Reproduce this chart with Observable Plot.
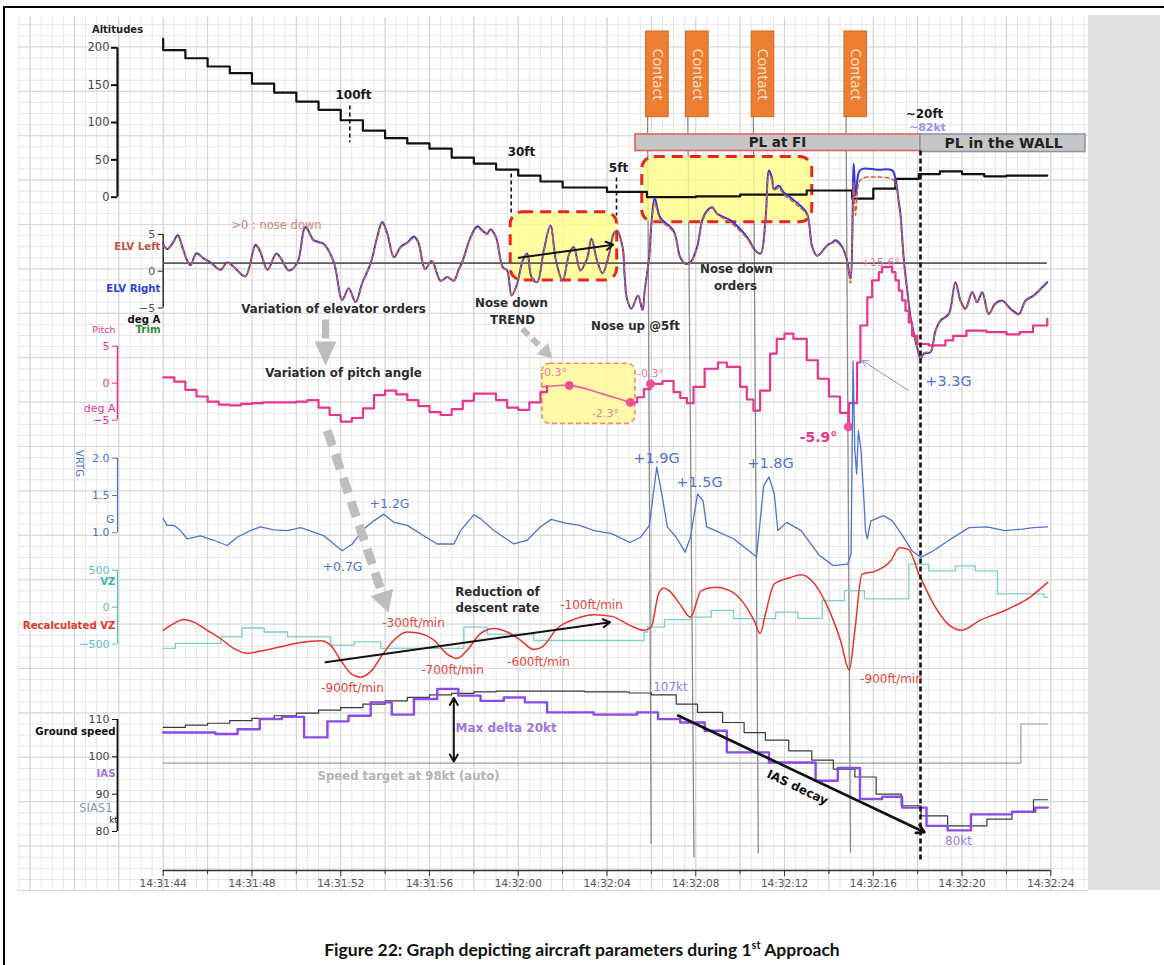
<!DOCTYPE html>
<html><head><meta charset="utf-8">
<script src="https://cdn.jsdelivr.net/npm/d3@7"></script>
<script src="https://cdn.jsdelivr.net/npm/@observablehq/plot@0.6"></script>
<style>
body{margin:0;background:#fff;}
#root{position:relative;width:1164px;height:965px;overflow:hidden;}
#frame{position:absolute;left:3px;top:6px;width:1175px;height:975px;border-left:2px solid #000;border-top:2px solid #000;}
#caption{position:absolute;left:0;top:933px;width:1164px;text-align:center;font:bold 17.5px Lato, "Open Sans", sans-serif;line-height:24px;color:#111;}
#caption sup{font-size:11px;}
</style></head><body>
<div id="root"><div id="frame"></div>
<div id="caption">Figure 22: Graph depicting aircraft parameters during 1<sup>st</sup> Approach</div>
</div>
<script>
// ---------------- DATA (time in seconds after 14:31:44) ----------------
const timeTicks = [0,4,8,12,16,20,24,28,32,36,40];
const timeLabels = ["14:31:44","14:31:48","14:31:52","14:31:56","14:32:00","14:32:04","14:32:08","14:32:12","14:32:16","14:32:20","14:32:24"];
const altTicks = [0,50,100,150,200];
const elvTicks = [-5,0,5];
const pitchTicks = [-5,0,5];
const gTicks = [1.0,1.5,2.0];
const vzTicks = [-500,0,500];
const speedTicks = [80,90,100,110];

const altitude = [[0,212],[0,197],[1,186],[2,175],[3,166],[4,152],[5,140],[6,128],[7,117],[8,103],[9,89],[10,79],[11,72],[12,65],[13,53],[14,45],[15,37],[16,29],[17,21],[18,13],[20,7],[21.8,0],[24,1],[26,3.5],[29,9],[31.05,-2],[32,11.6],[33,24.5],[34.05,31],[35,34.5],[36,31],[37,28],[38,29],[39.84,29]];

// [t, ELV right, ELV left]
const elv = [[0,3.7,3.5],[0.18,3.0,3.0],[0.4,3.7,3.6],[0.66,4.9,4.7],[0.86,3.3,3.3],[1.08,1.45,1.4],[1.23,0.8,0.8],[1.5,2.45,2.3],[1.83,1.7,1.7],[2.13,1.2,1.1],[2.58,0.2,0.2],[2.88,1.2,1.1],[3.18,0.6,0.6],[3.7,-0.7,-0.7],[4.16,3.6,3.4],[4.38,2.6,2.6],[4.7,0.2,0.2],[5.1,2.4,2.3],[5.36,1.45,1.45],[5.66,0.1,0.1],[6.04,1.1,1.1],[6.41,6.0,5.8],[6.79,4.2,4.1],[7.24,3.7,3.6],[7.69,1.2,1.2],[8.07,-3.9,-3.9],[8.36,-2.3,-2.4],[8.67,-4.2,-4.2],[8.97,-1.6,-1.6],[9.34,1.0,1.0],[9.64,4.6,4.5],[9.87,6.7,6.5],[10.1,5.1,5.0],[10.4,1.9,1.9],[10.7,3.3,3.2],[11.0,3.9,3.8],[11.3,4.7,4.5],[11.5,3.9,3.8],[11.8,0.3,0.3],[12.1,1.4,1.3],[12.5,-1.3,-1.3],[12.8,-0.8,-0.8],[13.1,-1.3,-1.3],[13.3,0.1,0.1],[13.5,1.45,1.4],[13.85,4.6,4.5],[14.15,6.1,5.9],[14.4,5.5,5.4],[14.6,5.1,5.0],[14.75,5.7,5.6],[15.0,4.6,4.5],[15.3,0.55,0.5],[15.5,0.1,0.1],[15.7,-3.3,-3.3],[15.95,-1.7,-1.7],[16.2,1.45,1.4],[16.4,2.4,2.3],[16.6,-0.8,-0.8],[16.85,-1.5,-1.5],[17.15,2.8,2.7],[17.45,6.2,6.1],[17.7,1.45,1.4],[18.0,-1.3,-1.3],[18.3,2.4,2.3],[18.5,3.3,3.2],[18.8,0.1,0.1],[19.1,1.7,1.6],[19.3,4.4,4.3],[19.55,1.45,1.4],[19.8,-0.3,-0.3],[20.1,2.4,2.3],[20.3,5.1,5.0],[20.45,5.5,5.6],[20.7,3.3,3.4],[20.8,-0.8,-0.8],[20.9,-3.75,-3.7],[21.1,-5.1,-5.0],[21.4,-3.3,-3.3],[21.6,-5.3,-5.2],[21.7,-2.6,-2.6],[21.9,1.9,1.9],[22.0,6.4,6.2],[22.15,9.9,9.2],[22.4,7.3,7.0],[23.0,5.5,5.3],[23.3,1.9,1.8],[23.54,1.0,1.0],[23.76,1.2,1.1],[24.06,3.3,3.2],[24.29,6.9,6.7],[24.5,8.2,8.0],[24.74,8.7,8.6],[24.97,7.8,7.7],[25.57,6.9,6.6],[26.32,4.6,4.4],[26.69,2.8,2.7],[26.92,2.4,2.4],[27.14,6.9,6.8],[27.3,13.7,13.2],[27.44,12.6,12.3],[27.52,11.2,11.0],[27.74,11.6,11.3],[27.97,10.7,10.4],[28.27,10.0,9.7],[28.72,8.9,8.6],[29.02,7.8,7.6],[29.25,3.3,3.2],[29.47,2.1,2.1],[29.92,3.5,3.4],[30.15,3.9,3.8],[30.3,4.2,4.0],[30.6,3.3,3.2],[30.82,1.45,1.4],[30.97,-1.0,-1.6],[31.12,14.6,12.0],[31.2,10.3,7.6],[31.35,13.45,12.0],[31.5,13.9,12.6],[32.2,13.8,12.8],[32.85,13.7,12.5],[33.0,12.6,12.0],[33.15,9.4,9.0],[33.23,7.6,7.2],[33.38,1.45,1.2],[33.53,-2.6,-2.8],[33.68,-6.25,-6.4],[33.83,-8.5,-8.6],[34.05,-11.2,-11.2],[34.13,-11.9,-11.8],[34.28,-11.2,-11.1],[34.58,-11.0,-10.9],[34.8,-8.1,-8.2],[35.03,-6.7,-6.8],[35.4,-5.8,-5.9],[35.7,-1.5,-1.7],[35.93,-4.0,-4.1],[36.15,-5.1,-5.2],[36.46,-2.85,-3.0],[36.68,-4.2,-4.3],[36.91,-2.85,-3.0],[37.2,-5.8,-5.9],[37.5,-4.4,-4.5],[37.81,-4.0,-4.1],[38.18,-5.1,-5.2],[38.56,-5.8,-5.9],[38.86,-4.0,-4.1],[39.23,-3.3,-3.4],[39.54,-2.4,-2.5],[39.84,-1.5,-1.6]];
const trimLevel = 1.1;
const trimSpan = [0, 39.84];

const pitchA = [[0,0.8],[0.5,0.2],[1,-0.9],[1.5,-1.8],[2,-2.5],[2.5,-2.9],[3,-3.0],[3.5,-2.8],[4,-2.7],[4.5,-2.6],[5,-2.6],[5.5,-2.6],[6,-2.5],[6.5,-2.3],[7,-3.3],[7.5,-4.3],[8,-5.2],[8.5,-4.7],[9,-3.4],[9.5,-1.6],[10,-1.0],[10.5,-1.5],[11,-2.3],[11.5,-3.1],[12,-3.9],[12.5,-4.3],[13,-3.5],[13.5,-2.4],[14,-1.4],[14.5,-1.4],[15,-2.3],[15.5,-3.3],[16,-3.6],[16.5,-2.6],[17,-1.2],[17.3,-0.4]];
const pitchTrend = [[17.1,-0.5],[18.3,-0.3],[19.3,-1.0],[20.3,-1.9],[21.05,-2.6]];
const pitchB = [[21.05,-2.6],[21.36,-1.9],[21.66,-0.8],[21.96,-0.1],[22.5,0.3],[23.0,-1.2],[23.3,-2.0],[23.6,-2.7],[23.9,-0.5],[24.4,1.95],[25.0,2.8],[25.4,2.2],[26.0,-0.5],[26.3,-2.2],[26.6,-3.7],[26.9,-1.0],[27.35,4.0],[27.65,6.0],[28,6.7],[28.4,6.0],[29,3.1],[29.5,0.6],[30,-1.8],[30.5,-4.0],[30.88,-5.9],[30.9,-2.7],[31.27,2.8],[31.42,7.8],[31.73,11.6],[31.95,13.9],[32.25,15.0],[32.4,15.7],[32.63,15.7],[32.85,15.0],[33.0,13.9],[33.15,12.5],[33.3,11.2],[33.45,9.8],[33.6,8.2],[33.75,6.4],[33.98,5.3],[34.5,5.1],[35.25,5.8],[35.6,6.4],[36.2,7.1],[37.1,6.9],[38.0,6.6],[38.6,6.9],[39.2,7.8],[39.84,8.7]];
const pitchMarks = [[18.3,-0.3],[21.05,-2.6],[21.96,-0.1],[30.88,-5.9]];

const vrtg = [[0,1.19],[0.18,1.10],[0.48,1.10],[0.78,1.03],[1.08,0.92],[1.68,0.96],[2.28,0.90],[2.88,0.83],[3.33,0.94],[3.93,1.03],[4.38,1.08],[4.98,1.04],[5.59,1.03],[6.19,1.07],[6.79,1.01],[7.24,0.96],[7.69,0.85],[8.07,0.76],[8.52,0.85],[9.04,1.05],[9.49,1.16],[9.94,1.25],[10.39,1.14],[11.0,1.10],[11.74,0.96],[12.35,0.85],[13.1,0.85],[13.4,1.03],[14.0,1.24],[14.3,1.19],[14.9,1.03],[15.35,0.94],[15.8,0.85],[16.4,0.90],[17.0,1.08],[17.49,1.18],[18.13,1.13],[18.77,1.10],[19.42,1.03],[20.22,0.99],[21.03,0.87],[21.51,0.94],[21.91,1.10],[22.24,1.88],[22.47,1.52],[22.72,1.08],[23.12,0.94],[23.52,0.74],[23.76,0.94],[24.08,1.52],[24.33,1.43],[24.49,1.08],[24.89,1.03],[25.7,0.92],[26.74,0.68],[27.06,1.63],[27.3,1.75],[27.54,1.52],[27.7,1.03],[28.1,1.14],[28.75,1.03],[29.56,0.70],[30.2,0.56],[30.84,0.58],[31.0,0.72],[31.09,3.3],[31.17,2.10],[31.25,1.79],[31.33,2.37],[31.45,2.1],[31.57,1.48],[31.65,1.03],[31.73,0.92],[31.89,1.16],[32.46,1.23],[32.86,1.16],[33.26,0.99],[33.74,0.76],[34.15,0.67],[34.71,0.76],[35.51,0.92],[36.32,1.07],[37.12,1.08],[37.93,1.03],[38.73,1.05],[39.22,1.07],[39.86,1.08]];

const vzStairs = [[0,-557],[0.55,-490],[2.6,-402],[3.55,-281],[4.55,-335],[5.6,-402],[7.55,-513],[8.6,-468],[9.8,-557],[13.55,-268],[14.6,-365],[16.7,-450],[21.67,-335],[21.83,-268],[22.6,-169],[23.76,-134],[24.7,-44],[25.7,-155],[27.6,-67],[28.6,-150],[29.7,90],[30.7,224],[31.6,112],[33.6,581],[34.5,491],[35.7,558],[36.6,491],[37.6,179],[39.7,134],[39.86,134]];
const vzCalc = [[0,-312],[0.48,-222],[0.93,-165],[1.38,-201],[1.98,-312],[2.58,-423],[3.18,-557],[3.79,-624],[4.38,-593],[5.29,-535],[6.19,-477],[7.09,-455],[7.54,-513],[7.99,-713],[8.44,-891],[8.89,-945],[9.42,-847],[9.87,-647],[10.39,-446],[11.0,-335],[11.6,-356],[12.2,-446],[12.8,-633],[13.25,-691],[13.7,-580],[14.3,-356],[14.9,-289],[15.5,-335],[16.1,-446],[16.7,-570],[17.0,-550],[17.3,-470],[17.65,-320],[18.61,-155],[19.42,-102],[20.22,-124],[21.03,-245],[21.67,-312],[21.99,-268],[22.32,179],[22.56,260],[22.8,224],[23.28,45],[23.76,-134],[24.25,224],[24.89,268],[25.53,224],[26.18,45],[26.66,-201],[26.9,-356],[27.14,-89],[27.54,313],[28.27,402],[28.75,438],[29.23,357],[29.88,45],[30.52,-446],[30.92,-847],[31.17,-312],[31.49,447],[32.13,491],[32.78,625],[33.18,803],[33.58,781],[34.06,447],[34.71,45],[35.35,-222],[35.99,-312],[36.8,-178],[37.93,-44],[39.05,134],[39.86,335]];

const groundSpeed = [[0,107.9],[1,108.5],[2,109],[3,109.7],[4,110.3],[5,111],[6,111.7],[7,112.5],[8,113.2],[9,114.1],[10,115],[11,115.9],[12,116.6],[13,117],[14,117.4],[15,117.6],[19,117.4],[21,117.1],[22,116.6],[23.12,114.1],[24.08,111.9],[25.21,109.2],[26.18,106.5],[27.14,104.5],[28.19,101.6],[29.23,99.1],[30.2,96.7],[31.17,94.6],[32.13,90.0],[33.26,86.9],[34.15,84.2],[35.35,81.5],[37.12,83.3],[38.25,85.1],[39.22,88.5],[39.86,88.5]];
const ias = [[0,106.5],[2.35,106.1],[3.35,107.4],[4.35,110.1],[5.35,110.7],[6.35,105.2],[7.4,109.5],[8.35,111],[9.35,114.6],[10.3,111.3],[11.3,115.5],[12.35,118.2],[13.3,116.4],[14.3,115],[15.35,115.9],[16.3,114.6],[17.3,111.9],[19.4,111.3],[21.35,111.9],[22.3,110.1],[23.3,109.2],[24.4,107],[25.4,101.2],[27.3,98.5],[29.4,93.6],[30.4,97.0],[31.4,88.7],[32.4,89.3],[33.3,86.4],[34.4,81.5],[35.35,80.3],[36.4,84.6],[38.25,85.3],[39.3,86.4],[39.86,86.4]];
const speedTarget = [[0,98.3],[38.65,108.8],[39.86,108.8]];

const contactTimes = [21.81, 23.61, 26.57, 30.75];

// ---------------- LAYOUT ----------------
const W = 1164, H = 920;
const XR = [162.7, 1050.3];
const tAt = px => (px - XR[0]) / (XR[1] - XR[0]) * 40;
const root = document.getElementById("root");
const FONT = "DejaVu Sans";
const C = {pink:"#e8368f", blue:"#4f72cc", teal:"#5fc2be", red:"#e8342c", purple:"#8b4be6", gs:"#3a3a3a", elvR:"#3438d6", elvL:"#cf6040"};

function addLayer({y, marks, ml = 0, mb = 0}) {
  const svg = Plot.plot({
    width: W, height: H, marginLeft: ml, marginRight: 0, marginTop: 0, marginBottom: mb,
    x: {domain: [0, 40], range: XR, axis: null},
    y: {...y, axis: null},
    marks,
    style: {background: "transparent", overflow: "visible", fontFamily: FONT}
  });
  Object.assign(svg.style, {position: "absolute", left: "0px", top: "0px"});
  root.insertBefore(svg, document.getElementById("caption"));
}
const X = d => d[0], Y = d => d[1];
const lbl = (items, o) => items.map(d => Plot.text([d], {x: e => tAt(e[0]), y: e => e[1], text: e => e[2], fontFamily: FONT, ...o, ...(d[3] ? {fill: d[3]} : {}), ...(d[4] ? {fontSize: d[4]} : {})}));
const panelAxis = (lo, hi, color, w = 1.4) => Plot.ruleX([tAt(117)], {y1: lo, y2: hi, stroke: color, strokeWidth: w});

// 1. base grid
const rows = d3.range(0, 80).map(i => 890 - i * 11.1).filter(v => v >= 16);
addLayer({y: {type: "identity"}, marks: [
  Plot.ruleX(d3.range(-6.5, 41.6, 0.5), {y1: 17, y2: 890, stroke: "#e7e7e7"}),
  Plot.ruleY(rows, {x1: tAt(18), x2: tAt(1088), stroke: "#e7e7e7"}),
  Plot.ruleX(d3.range(-6, 41.6, 2), {y1: 17, y2: 890, stroke: "#d2d2d2"}),
  Plot.ruleY(rows.filter((v, i) => i % 4 === 0), {x1: tAt(18), x2: tAt(1088), stroke: "#d8d8d8"}),
  Plot.rect([0], {x1: tAt(1088), x2: tAt(1160), y1: 15, y2: 890, fill: "#e2e2e2"}),
  Plot.link(contactTimes, {x1: d => d, x2: (d, i) => d + [0.18, 0.31, 0.25, 0.22][i], y1: 31, y2: (d, i) => [843, 857, 853, 852][i], stroke: "#8a8a8a", strokeWidth: 1.3})
]});

// 2. yellow highlight boxes (behind data)
addLayer({y: {domain: [-5, 5], range: [307.5, 233.9]}, marks: [
  Plot.rect([[15.66, 20.46, 8.0, -1.26], [21.59, 29.25, 15.5, 6.66]], {x1: d => d[0], x2: d => d[1], y1: d => d[2], y2: d => d[3], fill: "#ffff8a", fillOpacity: 0.8, stroke: "#e8261c", strokeWidth: 3, strokeDasharray: "11,7", rx: 12})
]});
addLayer({y: {domain: [-5, 5], range: [419.7, 345.7]}, marks: [
  Plot.rect([[17.08, 21.28, 2.62, -5.49]], {x1: d => d[0], x2: d => d[1], y1: d => d[2], y2: d => d[3], fill: "#fff8a0", fillOpacity: 0.9, stroke: "#f0905a", strokeWidth: 1.6, strokeDasharray: "5,3", rx: 8})
]});

// 3. altitude
addLayer({ml: 117, y: {domain: [0, 200], range: [196.7, 47.3]}, marks: [
  panelAxis(0, 200, "#111", 2.2),
  Plot.axisY({anchor: "left", ticks: altTicks, tickSize: 6, tickPadding: 2, fontSize: 11.5, fill: "#444", stroke: "#111", strokeWidth: 2, label: null}),
  Plot.line(altitude, {x: X, y: Y, curve: "step-after", stroke: "#111", strokeWidth: 2.2})
]});

// 4. elevator
addLayer({ml: 162.7, y: {domain: [-5, 5], range: [307.5, 233.9]}, marks: [
  Plot.ruleX([0], {y1: -5, y2: 5, stroke: "#222", strokeWidth: 1.4}),
  Plot.axisY({anchor: "left", ticks: elvTicks, tickSize: 5, tickPadding: 3, fontSize: 11, fill: "#555", stroke: "#222", label: null}),
  Plot.ruleY([trimLevel], {x1: trimSpan[0], x2: trimSpan[1], stroke: "#5a5a5a", strokeWidth: 1.6}),
  Plot.line(elv, {x: X, y: d => d[1], curve: "catmull-rom", stroke: C.elvR, strokeWidth: 2}),
  Plot.line(elv, {x: X, y: d => d[2], curve: "catmull-rom", stroke: C.elvL, strokeWidth: 1.5, strokeDasharray: "4,3"})
]});

// 5. pitch
addLayer({ml: 117, y: {domain: [-5, 5], range: [419.7, 345.7]}, marks: [
  panelAxis(-5, 5, C.pink, 1.6),
  Plot.axisY({anchor: "left", ticks: pitchTicks, tickSize: 5, tickPadding: 3, fontSize: 11, fill: C.pink, stroke: C.pink, label: null}),
  Plot.line(pitchA, {x: X, y: Y, curve: "step-after", stroke: C.pink, strokeWidth: 2.2}),
  Plot.line(pitchB, {x: X, y: Y, curve: "step-after", stroke: C.pink, strokeWidth: 2.2}),
  Plot.line(pitchTrend, {x: X, y: Y, curve: "natural", stroke: "#ef5b9c", strokeWidth: 1.6}),
  Plot.dot(pitchMarks, {x: X, y: Y, r: 4.5, fill: "#ef4f98"})
]});

// 6. vertical acceleration
addLayer({ml: 117, y: {domain: [1, 2], range: [532.3, 457.7]}, marks: [
  panelAxis(1, 2, C.blue, 1.2),
  Plot.axisY({anchor: "left", ticks: gTicks, tickFormat: d3.format(".1f"), tickSize: 5, tickPadding: 3, fontSize: 11, fill: C.blue, stroke: C.blue, label: null}),
  Plot.line(vrtg, {x: X, y: Y, stroke: C.blue, strokeWidth: 1.3})
]});

// 7. vertical speed
addLayer({ml: 117, y: {domain: [-500, 500], range: [643.7, 569.7]}, marks: [
  panelAxis(-500, 500, C.teal, 1.2),
  Plot.axisY({anchor: "left", ticks: vzTicks, tickSize: 5, tickPadding: 3, fontSize: 11, fill: C.teal, stroke: C.teal, label: null}),
  Plot.line(vzStairs, {x: X, y: Y, curve: "step-after", stroke: "#7fd0cc", strokeWidth: 1.3}),
  Plot.line(vzCalc, {x: X, y: Y, curve: "monotone-x", stroke: C.red, strokeWidth: 1.5})
]});

// 8. speeds
addLayer({ml: 117, y: {domain: [80, 110], range: [831, 719]}, marks: [
  panelAxis(80, 110, "#111", 1.8),
  Plot.axisY({anchor: "left", ticks: speedTicks, tickSize: 5, tickPadding: 3, fontSize: 11, fill: "#444", stroke: "#111", label: null}),
  Plot.line(speedTarget, {x: X, y: Y, curve: "step-after", stroke: "#9a9a9a", strokeWidth: 1.2}),
  Plot.line(groundSpeed, {x: X, y: Y, curve: "step-after", stroke: C.gs, strokeWidth: 1.2}),
  Plot.line(ias, {x: X, y: Y, curve: "step-after", stroke: C.purple, strokeWidth: 2.4})
]});

// 9. annotations & time axis
const P = tAt;
addLayer({mb: 50, y: {type: "identity"}, marks: [
  Plot.ruleY([870], {x1: 0, x2: 40, stroke: "#333", strokeWidth: 1.3}),
  Plot.axisX({anchor: "bottom", ticks: timeTicks, tickFormat: d => timeLabels[Math.round(d / 4)], tickSize: 6, tickPadding: 3, fontSize: 10.5, fill: "#555", stroke: "#333", label: null}),
  Plot.axisX({anchor: "bottom", ticks: d3.range(2, 40, 4), tickFormat: () => "", tickSize: 4, stroke: "#333", label: null}),
  // contact boxes
  Plot.rect(contactTimes, {x1: d => d - 0.05, x2: d => d + 0.97, y1: 31, y2: 116.7, fill: "#ed7d31", stroke: "#d06a28", strokeWidth: 1}),
  Plot.text(contactTimes, {x: d => d + 0.46, y: 74, text: () => "Contact", rotate: 90, fill: "#fde7d6", fontSize: 14.5, fontFamily: "Open Sans"}),
  // PL bars
  Plot.rect([0], {x1: P(635), x2: P(920), y1: 134, y2: 150.5, fill: "#c6c6c6", stroke: "#e06262", strokeWidth: 1.6}),
  Plot.rect([0], {x1: P(920), x2: P(1085), y1: 134, y2: 151.5, fill: "#c6c6c6", stroke: "#8797aa", strokeWidth: 1.6}),
  Plot.text(["PL at FI"], {x: P(777), y: 142.5, fontWeight: "bold", fontSize: 13.5, fill: "#222"}),
  Plot.text(["PL in the WALL"], {x: P(1003), y: 143, fontWeight: "bold", fontSize: 14, fill: "#222"}),
  // dashed markers
  Plot.link([[349.3,105,141.7],[510.7,173,212],[616,177,215]], {x1: d => P(d[0]), x2: d => P(d[0]), y1: d => d[1], y2: d => d[2], stroke: "#111", strokeWidth: 1.6, strokeDasharray: "4,3"}),
  Plot.link([0], {x1: P(920), x2: P(920), y1: 150, y2: 860, stroke: "#111", strokeWidth: 2.6, strokeDasharray: "5,3"}),
  // gray dashed arrows
  Plot.link([[325,319,325,338]], {x1: d => P(d[0]), y1: d => d[1], x2: d => P(d[2]), y2: d => d[3], stroke: "#bdbdbd", strokeWidth: 7}),
  Plot.vector([0], {x: P(325), y: 341, rotate: 180, length: 24, shape: "spike", r: 11, anchor: "start", fill: "#bdbdbd", stroke: "none"}),
  Plot.link([[326.7,430,381.3,592]], {x1: d => P(d[0]), y1: d => d[1], x2: d => P(d[2]), y2: d => d[3], stroke: "#bdbdbd", strokeWidth: 9, strokeDasharray: "16,9"}),
  Plot.vector([0], {x: P(381.3), y: 592, rotate: 161.4, length: 21, shape: "spike", r: 12, anchor: "start", fill: "#bdbdbd", stroke: "none"}),
  Plot.link([[521.7,328.3,542,348]], {x1: d => P(d[0]), y1: d => d[1], x2: d => P(d[2]), y2: d => d[3], stroke: "#bdbdbd", strokeWidth: 6, strokeDasharray: "9,5"}),
  Plot.vector([0], {x: P(542), y: 348, rotate: 135, length: 14, shape: "spike", r: 8, anchor: "start", fill: "#bdbdbd", stroke: "none"}),
  // black arrows
  Plot.arrow([[518.3,257.3,612.7,244.3],[325,661.7,609.6,621.7],[453.3,729,453.3,697.5],[453.3,729,453.3,761]], {x1: d => P(d[0]), y1: d => d[1], x2: d => P(d[2]), y2: d => d[3], stroke: "#111", strokeWidth: 2, headLength: 6}),
  Plot.arrow([[677.5,715,924,831.7]], {x1: d => P(d[0]), y1: d => d[1], x2: d => P(d[2]), y2: d => d[3], stroke: "#111", strokeWidth: 2.6, headLength: 5}),
  Plot.arrow([[908,390,861.7,360]], {x1: d => P(d[0]), y1: d => d[1], x2: d => P(d[2]), y2: d => d[3], stroke: "#7c98d4", strokeWidth: 1, headLength: 10}),
  // panel labels
  ...lbl([[117,29,"Altitudes","#222",10]], {fontWeight: "bold"}),
  ...lbl([[160,246.5,"ELV Left","#b9573f"],[160,288,"ELV Right","#2f3fd6"],[160,319,"deg A","#111"],[160,329,"Trim","#2e8b3a"],[115,731.5,"Ground speed","#111"],[115,625,"Recalculated VZ","#e33a2e"],[115,581,"VZ","#3fb3ab"],[115,773,"IAS","#9c72ea"]], {fontWeight: "bold", fontSize: 10.2, textAnchor: "end"}),
  ...lbl([[115,329,"Pitch",C.pink,9.5],[115,408,"deg A",C.pink,11],[114,519,"G",C.blue,11],[112,807.5,"SIAS1","#8a98a8",11.5],[117,820,"kt","#111",8.5]], {textAnchor: "end"}),
  Plot.text(["VRTG"], {x: P(79), y: 463, rotate: 90, fill: C.blue, fontSize: 10}),
  // annotations
  ...lbl([[353,95,"100ft"],[521,152,"30ft"],[618,168,"5ft"],[924,114,"~20ft"]], {fontWeight: "bold", fontSize: 12, fill: "#1a1a1a"}),
  ...lbl([[927,127,"~82kt"]], {fontWeight: "bold", fontSize: 11, fill: "#9d8fe8"}),
  ...lbl([[276,225,">0 : nose down"]], {fontSize: 11.5, fill: "#c98677"}),
  ...lbl([[333,309,"Variation of elevator orders"],[343,373,"Variation of pitch angle"],[511,303,"Nose down"],[512,320,"TREND"],[635,326,"Nose up @5ft"],[736,269,"Nose down"],[735,286,"orders"],[497,592,"Reduction of"],[497,608,"descent rate"]], {fontWeight: "bold", fontSize: 11.8, fill: "#2b2b2b"}),
  ...lbl([[553,372,"-0.3°"],[605,413,"-2.3°"],[650,373,"-0.3°"],[880,262,"+15.6°"]], {fontSize: 11, fill: "#f07aa8"}),
  ...lbl([[818,437,"-5.9°"]], {fontSize: 14, fontWeight: "bold", fill: C.pink}),
  ...lbl([[389,503,"+1.2G",,12.5],[342,566,"+0.7G",,12.5],[656,458,"+1.9G"],[699,482,"+1.5G"],[770,463,"+1.8G"],[948,381,"+3.3G"]], {fontSize: 14.5, fill: "#5174cf"}),
  ...lbl([[413,623,"-300ft/min"],[352,688,"-900ft/min"],[452,670,"-700ft/min"],[538,662,"-600ft/min"],[591,605,"-100ft/min"],[891,679,"-900ft/min"]], {fontSize: 12, fill: "#e5473d"}),
  ...lbl([[455,728,"Max delta 20kt"]], {fontSize: 12, fontWeight: "bold", fill: "#9a78e0", textAnchor: "start"}),
  ...lbl([[408,776,"Speed target at 98kt (auto)"]], {fontSize: 11.7, fontWeight: "bold", fill: "#b4b4b4"}),
  ...lbl([[670,687,"107kt"],[958,841,"80kt"]], {fontSize: 12, fill: "#9a7de0"}),
  ...lbl([[797,787,"IAS decay"]], {fontSize: 12, fontWeight: "bold", fill: "#111", rotate: 25.3})
]});
</script>
</body></html>
